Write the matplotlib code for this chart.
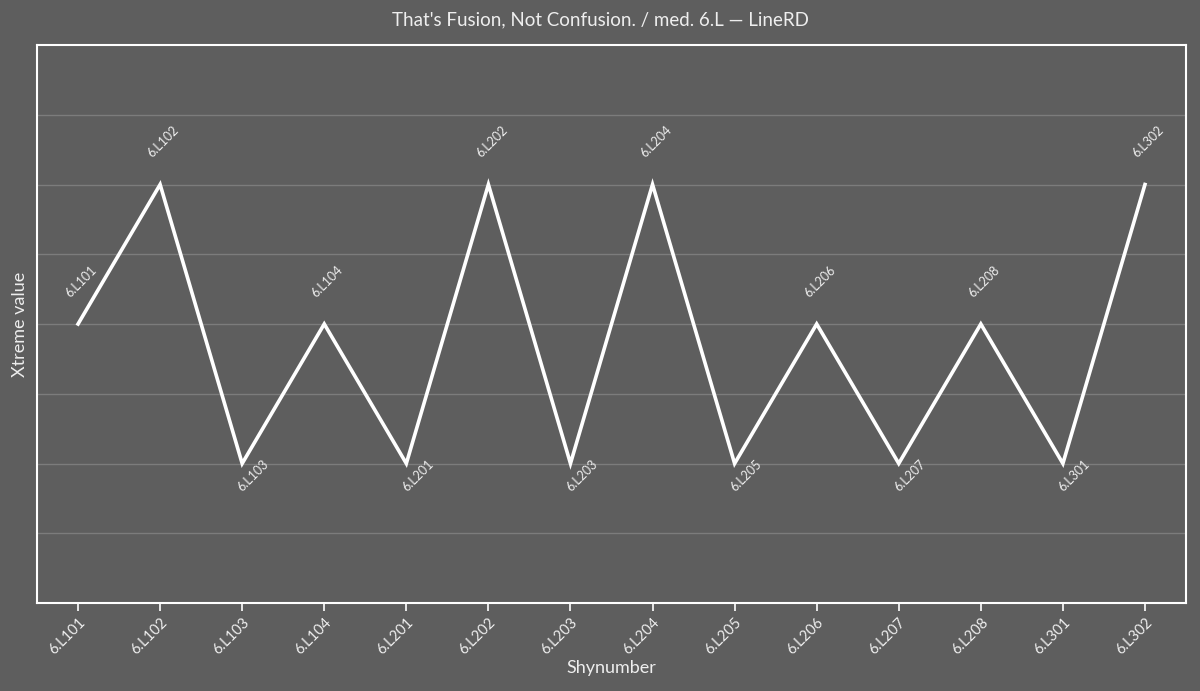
import matplotlib
matplotlib.use("Agg")
import matplotlib.pyplot as plt

# values: peaks = 2, middle = 0, valleys = -2
shynumbers = ["6.L101", "6.L102", "6.L103", "6.L104", "6.L201", "6.L202", "6.L203",
              "6.L204", "6.L205", "6.L206", "6.L207", "6.L208", "6.L301", "6.L302"]
xtreme = [0, 2, -2, 0, -2, 2, -2, 2, -2, 0, -2, 0, -2, 2]

BG = "#5e5e5e"
FG = "#ffffff"
plt.rcParams["font.family"] = ["Lato", "DejaVu Sans"]

fig = plt.figure(figsize=(12, 6.91), dpi=100, facecolor=BG)
ax = fig.add_axes([37/1200, 1 - 603/691, (1186-37)/1200, (603-45)/691])
ax.set_facecolor(BG)

x = list(range(len(shynumbers)))
ax.plot(x, xtreme, color=FG, linewidth=2.6, solid_joinstyle="miter")

# point labels: above for peaks/middle, below for valleys
for i, (lab, v) in enumerate(zip(shynumbers, xtreme)):
    is_valley = (i > 0 and v < xtreme[i-1]) and (i == len(xtreme)-1 or v < xtreme[i+1])
    off = (2, -30) if is_valley else (-6, 25)
    ax.annotate(lab, (i, v), xytext=off, textcoords="offset pixels",
                ha="left", va="bottom", rotation=45, rotation_mode="anchor",
                fontsize=9, color="#eeeeee")

ax.set_xlim(-0.5, len(shynumbers) - 0.5)
ax.set_ylim(-4, 4)
ax.set_yticks([-3, -2, -1, 0, 1, 2, 3])
ax.set_yticklabels([])
ax.tick_params(axis="y", length=0)
ax.set_xticks(x)
ax.set_xticklabels(shynumbers, rotation=45, ha="right", rotation_mode="anchor",
                   fontsize=10.5)
ax.tick_params(axis="x", colors=FG, length=6, width=1.2, pad=3)
for lbl in ax.get_xticklabels():
    lbl.set_color("#eeeeee")
ax.grid(True, axis="y", color="#7c7c7c", linewidth=1)
ax.set_axisbelow(True)
for s in ax.spines.values():
    s.set_color(FG)
    s.set_linewidth(1.5)

ax.set_xlabel("Shynumber", color="#eeeeee", fontsize=13, labelpad=2)
ax.set_ylabel("Xtreme value", color="#eeeeee", fontsize=13, labelpad=3)
fig.text(0.5, 1 - 20/691, "That's Fusion, Not Confusion. / med. 6.L \u2014 LineRD",
         ha="center", va="center", color="#eeeeee", fontsize=13.5)

fig.savefig("out.png", dpi=100, facecolor=BG)
